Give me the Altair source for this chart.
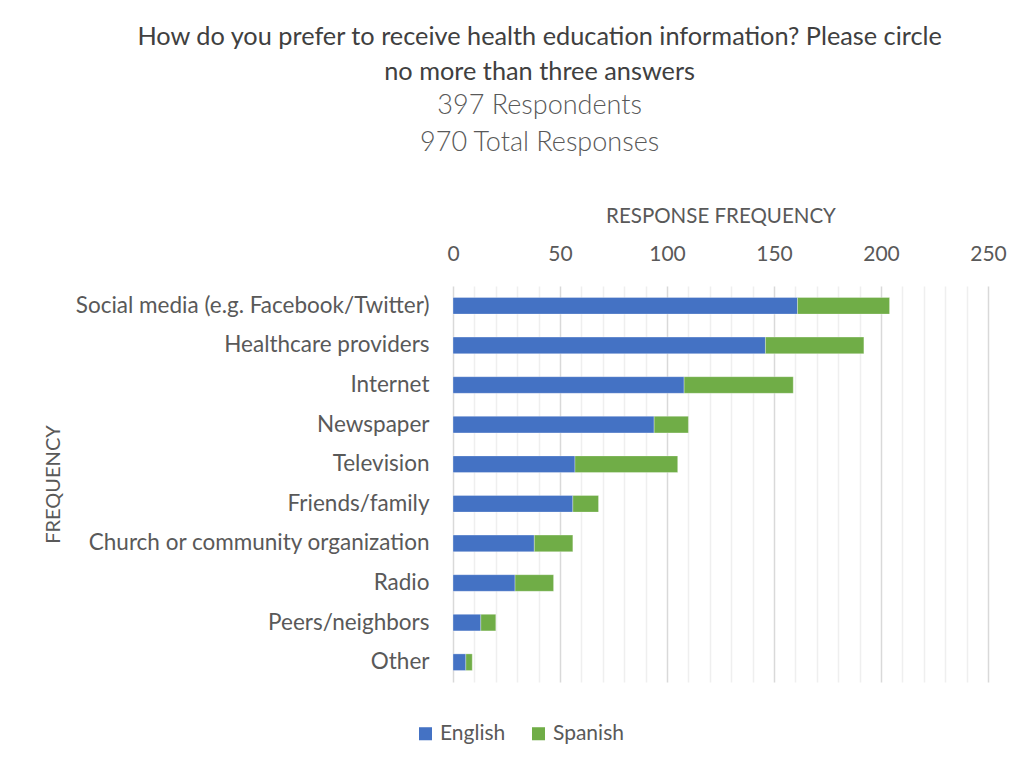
import altair as alt
import pandas as pd

categories = [
    "Social media (e.g. Facebook/Twitter)",
    "Healthcare providers",
    "Internet",
    "Newspaper",
    "Television",
    "Friends/family",
    "Church or community organization",
    "Radio",
    "Peers/neighbors",
    "Other",
]
english = [161, 146, 108, 94, 57, 56, 38, 29, 13, 6]
spanish = [43, 46, 51, 16, 48, 12, 18, 18, 7, 3]
series = ["English", "Spanish"]
colors = ["#4472C4", "#70AD47"]
tick_values = list(range(0, 251, 10))

rows = []
for c, e, s in zip(categories, english, spanish):
    rows.append({"category": c, "language": "English", "value": e, "order": 0})
    rows.append({"category": c, "language": "Spanish", "value": s, "order": 1})
df = pd.DataFrame(rows)

FONT = "Lato"
GREY = "#595959"

chart = (
    alt.Chart(df)
    .mark_bar(stroke="#ffffff", strokeWidth=0.5, strokeOpacity=0.6)
    .encode(
        x=alt.X(
            "value:Q",
            stack="zero",
            scale=alt.Scale(domain=[0, 250], nice=False),
            axis=alt.Axis(
                orient="top",
                title="RESPONSE FREQUENCY",
                values=tick_values,
                labelExpr="datum.value % 50 === 0 ? datum.label : ''",
                labelFlush=False,
                gridColor={
                    "condition": {"test": "datum.value % 50 === 0", "value": "#d9d9d9"},
                    "value": "#efefef",
                },
                gridWidth=1.5,
                ticks=False,
                domain=False,
                labelFontSize=21,
                labelColor=GREY,
                labelFont=FONT,
                labelPadding=22,
                titleFontSize=20.5,
                titleFontWeight="normal",
                titleColor=GREY,
                titleFont=FONT,
                titlePadding=17,
            ),
        ),
        y=alt.Y(
            "category:N",
            sort=categories,
            scale=alt.Scale(paddingInner=0.58, paddingOuter=0.29),
            axis=alt.Axis(
                title="FREQUENCY",
                ticks=False,
                domain=False,
                labelFontSize=22.5,
                labelColor=GREY,
                labelFont=FONT,
                labelPadding=24,
                labelLimit=500,
                titleFontSize=20,
                titleFontWeight="normal",
                titleColor=GREY,
                titleFont=FONT,
                titleX=-400,
                titleY=198,
                titleAngle=-90,
                titleAlign="center",
                titleBaseline="middle",
            ),
        ),
        color=alt.Color(
            "language:N",
            scale=alt.Scale(domain=series, range=colors),
            legend=alt.Legend(
                title=None,
                orient="none",
                legendX=-38,
                legendY=437,
                direction="horizontal",
                symbolType="square",
                symbolSize=170,
                symbolStrokeWidth=0,
                labelFontSize=21,
                labelColor=GREY,
                labelFont=FONT,
                columnPadding=22,
            ),
        ),
        order=alt.Order("order:Q"),
    )
    .properties(
        width=535,
        height=396,
        title=alt.TitleParams(
            text=[
                "How do you prefer to receive health education information? Please circle",
                "no more than three answers",
            ],
            subtitle=["397 Respondents", "970 Total Responses"],
            font=FONT,
            fontSize=25.3,
            fontWeight="normal",
            color="#404040",
            lineHeight=35,
            subtitleFont=FONT,
            subtitleFontSize=27,
            subtitleFontWeight=300,
            subtitleColor=GREY,
            subtitleLineHeight=37,
            subtitlePadding=8,
            anchor="middle",
            frame="bounds",
            offset=50,
            dx=15,
        ),
    )
    .configure(background="#ffffff", padding={"left": 35, "top": 16, "right": 5, "bottom": 10})
    .configure_view(strokeWidth=0, stroke="transparent")
)

chart.save("out.html", embed_options={"renderer": "svg", "actions": False})
